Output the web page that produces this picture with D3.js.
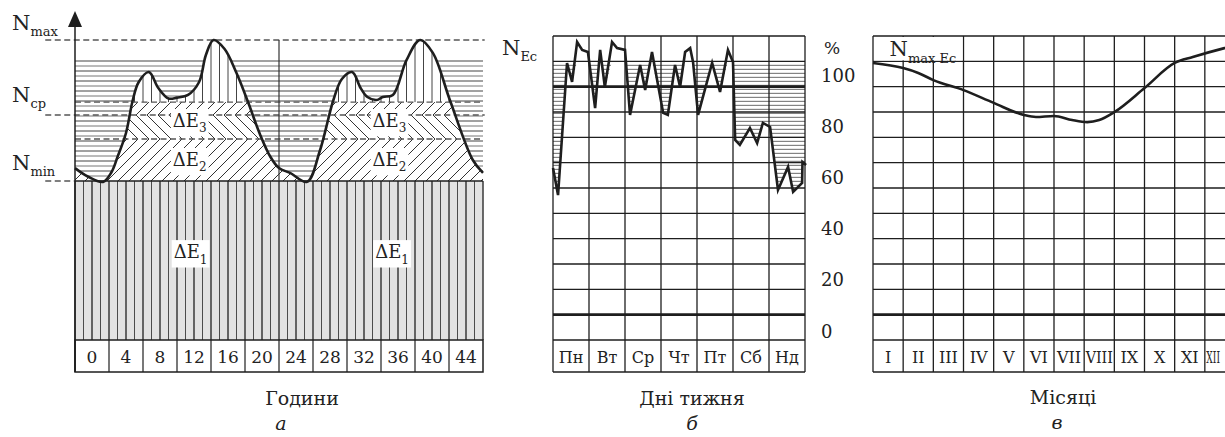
<!DOCTYPE html>
<html>
<head>
<meta charset="utf-8">
<script src="https://cdn.jsdelivr.net/npm/d3@7"></script>
<style>
  body { margin: 0; background: #fff; }
  text { font-family: "DejaVu Serif", "Liberation Serif", serif; fill: #222; }
</style>
</head>
<body>
<svg id="chart" width="1225" height="437"></svg>
<script>
// ---- data: panel a (daily load, two days) ----
var hourTicks = [0, 4, 8, 12, 16, 20, 24, 28, 32, 36, 40, 44];
var loadHours = [0, 1.5, 3.3, 4.3, 5, 6, 6.8, 7.5, 8.7, 9.8, 11, 12, 13.3, 14.6, 15.4, 16.3, 17.6, 19, 20.4, 21.7, 23,
                 24, 25.3, 27.3, 28.8, 30.4, 31.4, 32.6, 33.6, 34.4, 35.5, 36.2, 37.4, 39, 40.6, 42.1, 44.1, 46.8, 48];
var loadValues = [57.3, 54.5, 52.7, 56, 61, 69, 80, 86, 89.3, 84, 80.5, 80.8, 81.7, 86, 95, 100, 97, 89, 79, 69, 61,
                  57.3, 55.7, 52.7, 63, 80, 87, 89.3, 84, 81, 80, 81, 81.7, 93.3, 100, 95.7, 80, 60, 55.7];
var nMax = 100, nCp = 75, nMin = 53;
var bandTop = 79.3, bandMid = 67, hatchTopA = 93;
var energyLabels = [
  { name: 'E', sub: '3', h: 13.5, v: 73 }, { name: 'E', sub: '2', h: 13.5, v: 60 },
  { name: 'E', sub: '3', h: 37, v: 73 },   { name: 'E', sub: '2', h: 37, v: 60 },
  { name: 'E', sub: '1', h: 13.6, v: 29.3 }, { name: 'E', sub: '1', h: 37.3, v: 29.3 }
];

// ---- data: panel b (week) ----
var dayNames = ['Пн', 'Вт', 'Ср', 'Чт', 'Пт', 'Сб', 'Нд'];
var pctTicks = [0, 20, 40, 60, 80, 100];
var weekDays = [0, 0.14, 0.39, 0.53, 0.67, 0.81, 0.97, 1.17, 1.31, 1.44, 1.64, 1.78, 2, 2.14, 2.42, 2.56, 2.75,
                3.06, 3.19, 3.39, 3.53, 3.67, 3.81, 3.89, 4.03, 4.42, 4.64, 4.86, 5, 5.06, 5.19, 5.47, 5.67, 5.83,
                6.03, 6.25, 6.53, 6.67, 6.92, 6.93, 7.03];
var weekValues = [63.7, 53.1, 104.7, 97.3, 112.9, 109.8, 109, 87.1, 109.8, 95.3, 112.9, 110.5, 109.8, 84.4, 103.9, 94.1, 109,
                  85.2, 84.4, 103.9, 95.3, 109, 110.5, 105.1, 84.4, 104.7, 93.4, 109.8, 105.1, 74.6, 72.7, 79.3, 73.4, 81.3,
                  79.7, 55.1, 64.1, 54.3, 57.8, 66, 64.8];

// ---- data: panel c (year) ----
var monthNames = ['I', 'II', 'III', 'IV', 'V', 'VI', 'VII', 'VIII', 'IX', 'X', 'XI', 'XII'];
var yearMonths = [0, 1, 1.5, 2, 3, 4, 5, 5.4, 6, 6.6, 7.1, 7.5, 8, 9, 10, 10.6, 11.65, 12];
var yearValues = [104.7, 102.7, 100.8, 98, 94.1, 89.1, 84.4, 83.6, 84, 82.4, 81.6, 82.4, 85.5, 94.9, 104.7, 107, 110.5, 111.5];

var svg = d3.select('#chart');
var defs = svg.append('defs');
var ink = '#1e1e1e';
var pageW = +svg.attr('width');

// text with optional subscript
function label(g, x, y, main, sub, size, subSize, anchor) {
  var t = g.append('text').attr('x', x).attr('y', y).attr('font-size', size)
    .attr('text-anchor', anchor || 'start');
  t.append('tspan').text(main);
  if (sub) t.append('tspan').attr('font-size', subSize).attr('dy', size * 0.3).text(sub);
  return t;
}
function whiteBehind(g, t, pad) {
  var b = t.node().getBBox();
  g.insert('rect', function() { return t.node(); })
    .attr('x', b.x - pad).attr('y', b.y - 1).attr('width', b.width + 2 * pad).attr('height', b.height + 2)
    .attr('fill', '#fff');
}

// ================= panel a =================
var xA = d3.scaleLinear().domain([0, 48]).range([75, 483]);
var yA = d3.scaleLinear().domain([0, 100]).range([340, 40]);
var gA = svg.append('g');
var loadPts = loadHours.map(function(h, i) { return [h, loadValues[i]]; });
var smooth = d3.curveCatmullRom.alpha(0.5);

defs.append('clipPath').attr('id', 'underA').append('path')
  .attr('d', d3.area().x(function(d) { return xA(d[0]); }).y0(yA(0)).y1(function(d) { return yA(d[1]); }).curve(smooth)(loadPts));
defs.append('clipPath').attr('id', 'overA').append('path')
  .attr('d', d3.area().x(function(d) { return xA(d[0]); }).y0(yA(130)).y1(function(d) { return yA(d[1]); }).curve(smooth)(loadPts));

// base load block
gA.append('rect').attr('x', xA(0)).attr('y', yA(nMin)).attr('width', xA(48) - xA(0)).attr('height', yA(0) - yA(nMin))
  .attr('fill', '#e2e2e2');
gA.selectAll('.hr').data(d3.range(0, 49)).enter().append('line')
  .attr('x1', function(d) { return xA(d); }).attr('x2', function(d) { return xA(d); })
  .attr('y1', yA(nMin)).attr('y2', yA(0))
  .attr('stroke', '#3a3a3a').attr('stroke-width', function(d, i) { return i % 2 ? 0.9 : 1.5; });

// horizontal hatch above the curve
var hGroup = gA.append('g').attr('clip-path', 'url(#overA)');
hGroup.selectAll('line').data(d3.range(yA(hatchTopA), yA(nMin), 5)).enter().append('line')
  .attr('x1', xA(0)).attr('x2', xA(48)).attr('y1', function(d) { return d; }).attr('y2', function(d) { return d; })
  .attr('stroke', function(d, i) { return i % 2 ? '#777' : '#444'; }).attr('stroke-width', 1);

// vertical hatch in the peaks
var vGroup = gA.append('g').attr('clip-path', 'url(#underA)');
vGroup.selectAll('line').data(d3.range(0, 49)).enter().append('line')
  .attr('x1', function(d) { return xA(d); }).attr('x2', function(d) { return xA(d); })
  .attr('y1', yA(nMax + 2)).attr('y2', yA(bandTop))
  .attr('stroke', '#444').attr('stroke-width', 1);

// herringbone hatch between N_min and the upper band
var cGroup = gA.append('g').attr('clip-path', 'url(#underA)');
var hb = [yA(bandTop), yA(nCp), yA(bandMid), yA(nMin)];
cGroup.selectAll('polyline').data(d3.range(xA(0) - 60, xA(48) + 60, 11)).enter().append('polyline')
  .attr('points', function(x0) {
    var a = hb[1] - hb[0], b = hb[2] - hb[1], c = hb[3] - hb[2];
    return [[x0 + a, hb[0]], [x0, hb[1]], [x0 + b, hb[2]], [x0 + b - c, hb[3]]].join(' ');
  })
  .attr('fill', 'none').attr('stroke', '#333').attr('stroke-width', 1);

// dashed levels
var dashes = [
  { v: nMax, x1: -3.5, x2: 48.2 }, { v: nCp, x1: -3.5, x2: 48.2 },
  { v: bandTop, x1: 0, x2: 48 }, { v: bandMid, x1: 0, x2: 48 }, { v: nMin, x1: -3.5, x2: 0 }
];
gA.selectAll('.dash').data(dashes).enter().append('line')
  .attr('x1', function(d) { return xA(d.x1); }).attr('x2', function(d) { return xA(d.x2); })
  .attr('y1', function(d) { return yA(d.v); }).attr('y2', function(d) { return yA(d.v); })
  .attr('stroke', '#555').attr('stroke-width', 1.3).attr('stroke-dasharray', '6,3.5');

gA.append('line').attr('x1', xA(0)).attr('x2', xA(48)).attr('y1', yA(nMin)).attr('y2', yA(nMin))
  .attr('stroke', ink).attr('stroke-width', 1.5);
gA.append('line').attr('x1', xA(24)).attr('x2', xA(24)).attr('y1', yA(nMax)).attr('y2', yA(nMin))
  .attr('stroke', '#333').attr('stroke-width', 1.2);

// load curve
gA.append('path').attr('d', d3.line().x(function(d) { return xA(d[0]); }).y(function(d) { return yA(d[1]); }).curve(smooth)(loadPts))
  .attr('fill', 'none').attr('stroke', ink).attr('stroke-width', 2.6);

// axis with arrow
gA.append('line').attr('x1', xA(0)).attr('x2', xA(0)).attr('y1', 22).attr('y2', 372).attr('stroke', ink).attr('stroke-width', 1.5);
gA.append('path').attr('d', 'M' + xA(0) + ',' + 11 + 'l-7,16h14z').attr('fill', ink);

// tick row
gA.append('rect').attr('x', xA(0)).attr('y', yA(0)).attr('width', xA(48) - xA(0)).attr('height', 32)
  .attr('fill', 'none').attr('stroke', ink).attr('stroke-width', 1.5);
gA.selectAll('.tk').data(hourTicks).enter().append('line')
  .attr('x1', function(d) { return xA(d); }).attr('x2', function(d) { return xA(d); })
  .attr('y1', yA(0)).attr('y2', yA(0) + 32).attr('stroke', ink).attr('stroke-width', 1.2);
gA.selectAll('.tl').data(hourTicks).enter().append('text')
  .attr('x', function(d) { return xA(d + 2); }).attr('y', yA(0) + 17)
  .attr('text-anchor', 'middle').attr('dominant-baseline', 'central').attr('font-size', 17).text(function(d) { return d; });

// level labels
label(gA, 12, yA(nMax) - 10, 'N', 'max', 21, 13);
label(gA, 12, yA(nCp) - 13, 'N', 'cp', 21, 13);
label(gA, 12, yA(nMin) - 11, 'N', 'min', 21, 13);

energyLabels.forEach(function(d) {
  var t = label(gA, xA(d.h), yA(d.v) + 6, '\u0394' + d.name, d.sub, 18, 12, 'middle');
  whiteBehind(gA, t, 2);
});

gA.append('text').attr('x', 302).attr('y', 405).attr('text-anchor', 'middle').attr('font-size', 19).text('Години');
gA.append('text').attr('x', 281).attr('y', 430).attr('text-anchor', 'middle').attr('font-size', 19).attr('font-style', 'italic').text('а');

// ================= shared grid rows =================
var gridRow = d3.scaleLinear().domain([0, 12]).range([36, 340]);
var yPct = d3.scaleLinear().domain([0, 100]).range([331, 75]);

function drawGrid(g, x, cols, thickRows) {
  g.selectAll('.row').data(d3.range(0, 13)).enter().append('line')
    .attr('x1', x(0)).attr('x2', x(cols))
    .attr('y1', function(d) { return gridRow(d); }).attr('y2', function(d) { return gridRow(d); })
    .attr('stroke', ink).attr('stroke-width', function(d) { return thickRows.indexOf(d) >= 0 ? 2.6 : 1.3; });
  g.append('line').attr('x1', x(0)).attr('x2', x(cols)).attr('y1', 372).attr('y2', 372).attr('stroke', ink).attr('stroke-width', 1.6);
  g.selectAll('.col').data(d3.range(0, cols + 1)).enter().append('line')
    .attr('x1', function(d) { return x(d); }).attr('x2', function(d) { return x(d); })
    .attr('y1', gridRow(0)).attr('y2', 372)
    .attr('stroke', ink).attr('stroke-width', 1.3);
}

// ================= panel b =================
var xB = d3.scaleLinear().domain([0, 7]).range([553, 805]);
var gB = svg.append('g');
var weekPts = weekDays.map(function(d, i) { return [d, weekValues[i]]; });
var hatchLevel = gridRow(1);

defs.append('clipPath').attr('id', 'underB').append('path')
  .attr('d', d3.area().x(function(d) { return xB(d[0]); }).y0(hatchLevel)
    .y1(function(d) { return Math.max(yPct(d[1]), hatchLevel); })(weekPts));
gB.append('g').attr('clip-path', 'url(#underB)').selectAll('line')
  .data(d3.range(hatchLevel, gridRow(7), 4)).enter().append('line')
  .attr('x1', xB(0)).attr('x2', xB(7)).attr('y1', function(d) { return d; }).attr('y2', function(d) { return d; })
  .attr('stroke', '#6a6a6a').attr('stroke-width', 1);

drawGrid(gB, xB, 7, [2, 11]);

gB.append('path').attr('d', d3.line().x(function(d) { return xB(d[0]); }).y(function(d) { return yPct(d[1]); })(weekPts))
  .attr('fill', 'none').attr('stroke', ink).attr('stroke-width', 2.6).attr('stroke-linejoin', 'miter');

gB.selectAll('.dl').data(dayNames).enter().append('text')
  .attr('x', function(d, i) { return xB(i + 0.5); }).attr('y', 357)
  .attr('text-anchor', 'middle').attr('dominant-baseline', 'central').attr('font-size', 16).text(function(d) { return d; });

gB.selectAll('.pl').data(pctTicks).enter().append('text')
  .attr('x', 821).attr('y', function(d) { return yPct(d); })
  .attr('dominant-baseline', 'central').attr('font-size', 18).text(function(d) { return d; });
gB.append('text').attr('x', 832).attr('y', 48).attr('text-anchor', 'middle').attr('dominant-baseline', 'central')
  .attr('font-size', 17).text('%');
label(gB, 502, 55, 'N', 'Ec', 21, 13);

gB.append('text').attr('x', 692).attr('y', 405).attr('text-anchor', 'middle').attr('font-size', 19).text('Дні тижня');
gB.append('text').attr('x', 692).attr('y', 430).attr('text-anchor', 'middle').attr('font-size', 19).attr('font-style', 'italic').text('б');

// ================= panel c =================
var xC = d3.scaleLinear().domain([0, 12]).range([873, 1235]);
var gC = svg.append('g');
drawGrid(gC, xC, 12, [11]);

var nbox = label(gC, xC(0.55), gridRow(1) - 5, 'N', 'max Ec', 21, 13);
gC.insert('rect', function() { return nbox.node(); })
  .attr('x', xC(0) + 1).attr('y', gridRow(0) + 1).attr('width', xC(3) - xC(0) - 2).attr('height', gridRow(1) - gridRow(0) - 2)
  .attr('fill', '#fff');

var yearPts = yearMonths.map(function(d, i) { return [d, yearValues[i]]; });
gC.append('path').attr('d', d3.line().x(function(d) { return xC(d[0]); }).y(function(d) { return yPct(d[1]); }).curve(d3.curveMonotoneX)(yearPts))
  .attr('fill', 'none').attr('stroke', ink).attr('stroke-width', 2.6);

// month labels; the last column runs past the page edge, so squeeze its label into the visible part
var visRight = pageW - 5;
gC.selectAll('.ml').data(monthNames).enter().append('text')
  .attr('x', function(d, i) {
    var left = xC(i) + 1.5, right = Math.min(xC(i + 1) - 1.5, visRight);
    return (left + right) / 2;
  })
  .attr('y', 357)
  .attr('text-anchor', 'middle').attr('dominant-baseline', 'central').attr('font-size', 16).text(function(d) { return d; })
  .each(function(d, i) {
    var w = this.getComputedTextLength();
    var room = Math.min(xC(i + 1) - 1.5, visRight) - xC(i) - 1.5;
    if (w > room) d3.select(this).attr('textLength', room).attr('lengthAdjust', 'spacingAndGlyphs');
  });

gC.append('text').attr('x', 1063).attr('y', 404).attr('text-anchor', 'middle').attr('font-size', 19).text('Місяці');
gC.append('text').attr('x', 1057).attr('y', 429).attr('text-anchor', 'middle').attr('font-size', 19).attr('font-style', 'italic').text('в');
</script>
</body>
</html>
